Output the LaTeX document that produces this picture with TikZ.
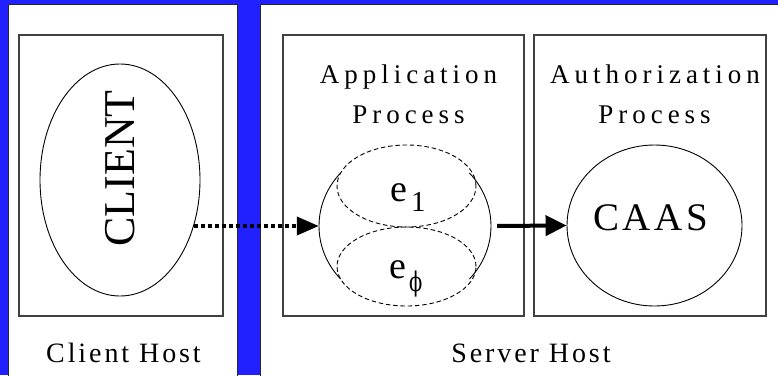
\documentclass[tikz,border=0pt]{standalone}
\usepackage{fontspec}
\setmainfont{Liberation Serif}
\newfontfamily\greekfont{DejaVu Serif}
\usetikzlibrary{shapes.geometric,arrows.meta,calc}
\definecolor{hostblue}{RGB}{33,33,255}

\tikzset{
  hostpanel/.style={draw=black!85, line width=1pt, fill=white, rectangle, inner sep=0pt},
  procbox/.style={draw=black!75, line width=1.2pt, rectangle, inner sep=0pt},
  oval/.style={ellipse, draw=black, line width=0.9pt, inner sep=0pt},
  dashoval/.style={ellipse, draw=black, line width=0.9pt, dash pattern=on 4.5pt off 2.8pt, inner sep=0pt},
  proclabel/.style={anchor=base, inner sep=0pt,
    font=\fontsize{27}{30}\selectfont\addfontfeature{LetterSpace=18.5}},
  hostlabel/.style={anchor=base, inner sep=0pt,
    font=\fontsize{28}{30}\selectfont\addfontfeature{LetterSpace=10.4}},
  entity/.style={anchor=base west, inner sep=0pt},
  dotarrow/.style={line width=3.8pt, dash pattern=on 4pt off 3pt,
    -{Triangle[length=22pt,width=18pt]}},
  solidarrow/.style={line width=4pt, -{Triangle[length=21pt,width=20pt]}},
}

\begin{document}
\begin{tikzpicture}[x=1pt, y=-1pt]
  \useasboundingbox (0,0) rectangle (778,375);
  \fill[hostblue] (0,0) rectangle (778,375);

  % the two hosts
  \node[hostpanel, minimum width=229pt, minimum height=376pt] (clienthost) at (122.5,192.5) {};
  \node[hostpanel, minimum width=520pt, minimum height=376pt] (serverhost) at (520,192.5) {};

  % process boxes
  \node[procbox, minimum width=204pt, minimum height=281pt] (clientbox) at (121,175.5) {};
  \node[procbox, minimum width=241pt, minimum height=281pt] (appbox) at (403.5,175.5) {};
  \node[procbox, minimum width=232pt, minimum height=281pt] (authbox) at (650,175.5) {};

  % client
  \node[oval, minimum width=160pt, minimum height=232pt] (client) at (120,180) {};
  \node[inner sep=0pt, rotate=90, font=\fontsize{44}{46}\selectfont] (clientname) at (120.5,168.5) {CLIENT};

  % application process with its two entities
  \node[ellipse, minimum width=172pt, minimum height=160pt, inner sep=0pt] (app) at (405,226) {};
  \node[dashoval, minimum width=139pt, minimum height=82pt] (etop) at (406.5,186) {};
  \node[dashoval, minimum width=139pt, minimum height=79pt] (ebot) at (406.5,266.5) {};
  \draw[line width=0.9pt] ([shift={(138.5:86pt and 80pt)}]app.center)
    arc[start angle=138.5, end angle=221.5, x radius=86pt, y radius=80pt];
  \draw[line width=0.9pt] ([shift={(-41.5:86pt and 80pt)}]app.center)
    arc[start angle=-41.5, end angle=41.5, x radius=86pt, y radius=80pt];
  \node[entity] (eone) at (390,201)
    {\fontsize{38}{40}\selectfont e\hspace{4pt}\raisebox{-10pt}{\fontsize{29}{30}\selectfont 1}};
  \node[entity] (ephi) at (389,278)
    {\fontsize{38}{40}\selectfont e\hspace{3pt}\raisebox{-13.5pt}{\scalebox{0.72}[1]{\greekfont\fontsize{27}{30}\selectfont ϕ}}};

  % authorization service
  \node[oval, minimum width=175pt, minimum height=161pt] (caas) at (654.5,225.5) {};
  \node[anchor=base, inner sep=0pt,
    font=\fontsize{39}{42}\selectfont\addfontfeature{LetterSpace=9.2}] (caasname) at (650.8,230) {CAAS};

  % labels
  \node[proclabel] (applabel) at (408.5,83) {Application};
  \node[proclabel] (appproc) at (408.5,123) {Process};
  \node[proclabel] (authlabel) at (655,83) {Authorization};
  \node[proclabel] (authproc) at (654.5,123) {Process};
  \node[hostlabel] (clientlabel) at (123.5,362) {Client Host};
  \node[hostlabel] (serverlabel) at (531,362) {Server Host};

  % connectors
  \draw[dotarrow] (client.-32 |- app.west) -- (app.west);
  \draw[solidarrow, shorten <=6pt] (app.east) -- (caas.west);
\end{tikzpicture}
\end{document}
